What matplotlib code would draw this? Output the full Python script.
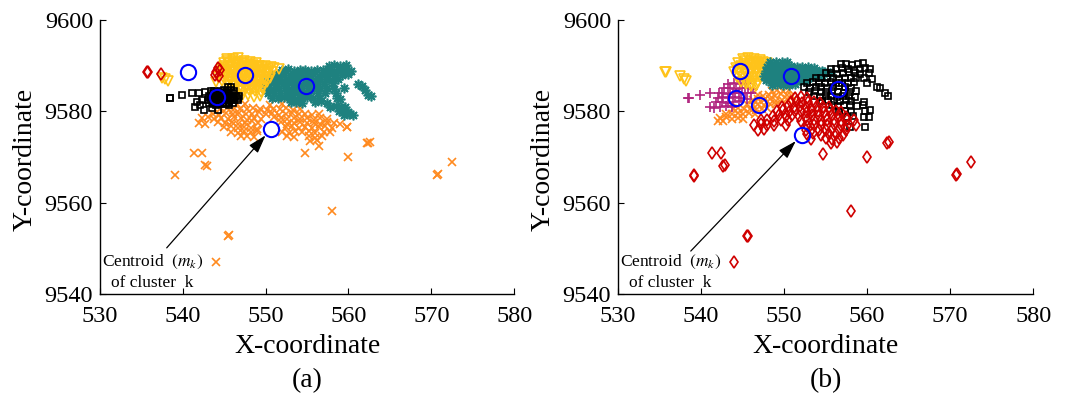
import matplotlib
matplotlib.use("Agg")
import matplotlib.pyplot as plt

plt.rcParams["font.family"] = ["Liberation Serif", "DejaVu Serif"]
plt.rcParams["mathtext.fontset"] = "stix"

# ---------------- panel (a) ----------------
a_yellow_x = [537.5, 537.8, 538.2,
              545.3, 546.0, 546.7,
              545.0, 545.7, 546.4, 547.1, 547.8, 548.5, 549.2,
              545.3, 546.0, 546.7, 547.4, 548.1, 548.8,
              544.7, 545.4, 546.1, 546.8, 547.5, 548.2, 548.9, 549.6, 550.3, 551.0, 551.6,
              545.0, 545.7, 546.4, 547.1, 547.8, 548.5, 549.2, 549.9, 550.6,
              544.5, 545.2, 545.9, 546.6, 547.3, 548.0, 548.7, 549.4, 550.1, 550.8,
              544.8, 545.5, 546.2, 546.9, 547.6, 548.3, 549.0, 549.7, 550.4,
              544.2, 544.9, 545.6, 546.3, 547.0, 547.7, 548.4, 549.1, 549.8, 550.5,
              544.5, 545.2, 545.9, 546.6, 547.3, 548.0, 548.7, 549.4, 550.1,
              544.0, 544.7, 545.4, 546.1, 546.8, 547.5, 548.2, 548.9, 549.6, 550.2,
              545.8, 546.5, 547.2, 547.9, 548.6, 549.3, 549.9,
              545.5, 546.2, 546.9, 547.6, 548.3, 549.0, 549.7,
              546.9, 547.6, 548.3, 549.0, 549.6,
              546.6, 547.3, 548.0, 548.7, 549.4,
              547.2, 547.9, 548.6, 549.3]
a_yellow_y = [9587.4, 9587.0, 9586.7,
              9591.5, 9591.5, 9591.6,
              9590.5, 9590.6, 9590.4, 9590.5, 9590.3, 9590.2, 9590.0,
              9591.0, 9591.1, 9590.9, 9591.0, 9590.8, 9590.6,
              9589.5, 9589.6, 9589.4, 9589.5, 9589.7, 9589.4, 9589.5, 9589.6, 9589.3, 9589.5, 9589.3,
              9590.0, 9590.0, 9590.1, 9589.9, 9590.0, 9590.0, 9589.9, 9590.0, 9589.8,
              9588.5, 9588.4, 9588.6, 9588.5, 9588.3, 9588.5, 9588.6, 9588.4, 9588.5, 9588.6,
              9589.0, 9589.0, 9589.1, 9588.9, 9589.0, 9589.0, 9589.1, 9589.0, 9588.9,
              9587.5, 9587.6, 9587.4, 9587.5, 9587.7, 9587.5, 9587.4, 9587.6, 9587.5, 9587.4,
              9588.0, 9588.0, 9587.9, 9588.1, 9588.0, 9588.0, 9587.9, 9588.0, 9588.1,
              9586.5, 9586.6, 9586.4, 9586.5, 9586.6, 9586.4, 9586.5, 9586.7, 9586.5, 9586.4,
              9587.0, 9587.0, 9586.9, 9587.1, 9587.0, 9587.0, 9586.9,
              9585.5, 9585.6, 9585.4, 9585.5, 9585.6, 9585.5, 9585.4,
              9585.0, 9585.1, 9584.9, 9585.0, 9585.0,
              9584.5, 9584.4, 9584.6, 9584.5, 9584.3,
              9583.3, 9583.5, 9583.2, 9583.4]

a_teal_x = [557.6, 558.3, 559.0, 559.7,
            552.0, 552.7, 553.4, 554.1, 554.8, 555.5, 556.2, 556.9, 557.6, 558.3, 559.0, 559.7, 560.3,
            550.8, 551.5, 552.2, 552.9, 553.6, 554.3, 555.0, 555.7, 556.4, 557.1, 557.8, 558.5, 559.2, 559.9,
            550.3, 551.0, 551.7, 552.4, 553.1, 553.8, 554.5, 555.2, 555.9, 556.6, 557.3, 558.0, 558.7,
            550.0, 550.7, 551.4, 552.1, 552.8, 553.5, 554.2, 554.9, 555.6, 556.3, 557.0, 558.1, 561.2, 561.6,
            550.2, 550.9, 551.6, 552.3, 553.0, 553.7, 554.4, 555.1, 555.8, 556.5, 557.4, 558.2, 559.4, 562.0,
            550.3, 551.0, 551.7, 552.4, 553.1, 553.8, 554.5, 555.2, 556.3, 557.2, 558.5, 562.3, 562.7,
            550.8, 551.5, 552.2, 552.9, 553.6, 554.3, 555.0, 555.7, 556.4, 558.6, 559.0,
            553.0, 553.7, 554.4, 556.0, 556.7, 557.4,
            557.8, 558.5, 559.1, 559.6,
            558.8, 559.4, 560.0,
            559.5, 560.1, 560.6]
a_teal_y = [9590.0, 9590.2, 9589.9, 9590.1,
            9589.0, 9589.2, 9588.9, 9589.1, 9589.0, 9588.8, 9589.1, 9589.0, 9589.2, 9588.9, 9589.0, 9589.2, 9588.9,
            9588.0, 9588.1, 9587.9, 9588.0, 9588.2, 9587.9, 9588.0, 9588.1, 9587.8, 9588.0, 9588.1, 9587.9, 9588.0, 9588.1,
            9587.0, 9586.9, 9587.1, 9587.0, 9586.8, 9587.0, 9587.2, 9587.0, 9586.9, 9587.1, 9587.0, 9586.8, 9587.0,
            9586.0, 9586.1, 9585.9, 9586.0, 9586.2, 9586.0, 9585.8, 9586.0, 9586.1, 9585.9, 9586.0, 9586.1, 9586.0, 9585.6,
            9585.0, 9584.9, 9585.1, 9585.0, 9584.8, 9585.0, 9585.2, 9585.0, 9584.9, 9585.1, 9585.0, 9584.8, 9585.0, 9584.6,
            9584.0, 9584.1, 9583.9, 9584.0, 9584.2, 9584.0, 9583.8, 9584.0, 9584.1, 9583.9, 9584.0, 9583.6, 9583.3,
            9583.0, 9582.9, 9583.1, 9583.0, 9582.8, 9583.0, 9583.2, 9583.0, 9582.9, 9583.0, 9582.6,
            9582.0, 9582.1, 9581.9, 9582.0, 9582.2, 9581.9,
            9581.0, 9581.1, 9580.9, 9581.0,
            9580.0, 9580.1, 9579.9,
            9579.2, 9579.3, 9579.1]

a_orange_x = [546.5, 547.5, 550.5, 552.0,
              544.5, 545.3, 546.1, 546.9, 547.7, 548.5, 549.3, 550.1, 550.9, 551.7, 552.5, 553.3, 554.1,
              543.6, 544.4, 545.2, 546.0, 546.8, 547.6, 548.4, 549.2, 550.0, 550.8, 551.6, 552.4, 553.2, 554.0, 554.8, 555.6, 556.4,
              542.3, 543.0, 543.8, 544.6, 545.4, 546.2, 547.0, 547.8, 548.6, 549.4, 551.0, 551.8, 552.6, 553.4, 554.2, 555.0, 555.8, 556.6, 557.4,
              542.0, 542.7, 544.3, 545.1, 545.9, 546.7, 547.5, 548.3, 549.1, 551.8, 552.6, 553.4, 554.2, 555.0, 555.8, 556.6, 557.4, 558.2, 559.0,
              545.0, 545.8, 546.6, 547.4, 548.2, 549.0, 552.4, 553.2, 554.0, 554.8, 555.6, 556.4, 557.2, 558.0, 559.8,
              545.8, 546.6, 547.4, 548.2, 549.0, 552.0, 552.8, 553.6, 554.4, 555.2, 556.0, 557.0, 557.8,
              547.0, 547.8, 548.6, 552.6, 553.4, 555.2, 556.0, 556.8,
              555.4, 556.2, 562.2, 556.4, 562.6,
              541.3, 542.3, 542.7, 542.9, 539.1, 554.8, 560.0, 562.4, 559.8,
              558.0, 545.5, 545.6, 544.0, 570.7, 570.8, 572.5]
a_orange_y = [9581.5, 9581.7, 9581.4, 9581.6,
              9580.5, 9580.8, 9580.3, 9580.6, 9580.4, 9580.7, 9580.5, 9580.2, 9580.6, 9580.4, 9580.7, 9580.3, 9580.5,
              9579.5, 9579.2, 9579.7, 9579.4, 9579.6, 9579.3, 9579.5, 9579.8, 9579.4, 9579.6, 9579.2, 9579.5, 9579.7, 9579.3, 9579.5, 9579.1, 9579.4,
              9578.5, 9578.7, 9578.3, 9578.6, 9578.4, 9578.8, 9578.5, 9578.2, 9578.6, 9578.4, 9578.7, 9578.5, 9578.3, 9578.6, 9578.4, 9578.5, 9578.2, 9578.6, 9578.4,
              9577.5, 9577.2, 9577.6, 9577.4, 9577.7, 9577.3, 9577.5, 9577.8, 9577.4, 9577.6, 9577.3, 9577.5, 9577.7, 9577.4, 9577.5, 9577.2, 9577.6, 9577.4, 9577.3,
              9576.5, 9576.7, 9576.3, 9576.6, 9576.4, 9576.2, 9576.5, 9576.8, 9576.4, 9576.6, 9576.3, 9576.5, 9576.7, 9576.4, 9576.6,
              9575.5, 9575.3, 9575.7, 9575.4, 9575.6, 9575.5, 9575.2, 9575.6, 9575.4, 9575.7, 9575.3, 9575.5, 9575.4,
              9574.5, 9574.7, 9574.3, 9574.6, 9574.4, 9574.5, 9574.2, 9574.6,
              9573.5, 9573.7, 9573.1, 9572.5, 9573.3,
              9570.9, 9570.8, 9568.3, 9568.1, 9566.1, 9570.8, 9570.1, 9573.1, 9576.6,
              9558.2, 9552.7, 9552.9, 9547.1, 9566.0, 9566.2, 9568.9]

a_black_x = [538.4, 538.5, 539.9, 541.1, 542.0, 542.7, 541.5, 542.1, 542.6, 543.5, 544.3, 541.7, 542.3,
             543.4, 543.8, 544.2, 544.6, 545.0, 545.4, 545.8, 546.2,
             543.6, 544.0, 544.4, 544.8, 545.2, 545.6, 546.0,
             543.2, 543.6, 544.0, 544.4, 544.8, 545.2, 545.6, 546.0, 546.4, 546.8,
             543.4, 543.8, 544.2, 544.6, 545.0, 545.4, 545.8, 546.2, 546.6,
             543.0, 543.4, 543.8, 544.2, 544.6, 545.0, 545.4, 545.8, 546.2, 546.6,
             543.2, 543.6, 544.0, 544.4, 544.8, 545.2, 545.6, 546.0,
             543.6, 544.0, 544.4, 544.8, 545.2, 545.6,
             545.4, 545.8]
a_black_y = [9582.9, 9583.0, 9583.6, 9584.1, 9584.1, 9584.3, 9581.0, 9581.4, 9580.3, 9580.7, 9580.3, 9582.1, 9582.5,
             9584.4, 9584.5, 9584.3, 9584.4, 9584.6, 9584.4, 9584.7, 9584.4,
             9583.9, 9583.9, 9583.9, 9583.9, 9583.9, 9583.9, 9583.9,
             9583.4, 9583.3, 9583.5, 9583.4, 9583.3, 9583.4, 9583.5, 9583.4, 9583.3, 9583.4,
             9582.9, 9582.9, 9582.9, 9582.9, 9582.9, 9582.9, 9582.9, 9582.9, 9582.9,
             9582.4, 9582.5, 9582.3, 9582.4, 9582.5, 9582.4, 9582.3, 9582.4, 9582.5, 9582.4,
             9581.9, 9581.9, 9581.9, 9581.9, 9581.9, 9581.9, 9581.9, 9581.9,
             9581.5, 9581.4, 9581.5, 9581.6, 9581.5, 9581.4,
             9585.3, 9585.3]

a_red_x = [535.7, 535.8, 537.3, 543.9, 544.2, 544.5, 544.0, 544.4]
a_red_y = [9588.5, 9588.7, 9588.1, 9588.0, 9589.4, 9589.0, 9588.7, 9587.7]

a_cent_x = [540.6, 547.5, 544.1, 554.9, 550.65]
a_cent_y = [9588.6, 9588.0, 9583.1, 9585.5, 9576.1]

# ---------------- panel (b) ----------------
b_yellow_x = [535.7, 535.8, 537.5, 537.9, 538.2,
              545.0, 545.7, 546.4, 547.1,
              545.3, 546.0, 546.7, 547.4,
              544.5, 545.2, 545.9, 546.6, 547.3, 548.0,
              544.8, 545.5, 546.2, 546.9, 547.6,
              544.2, 544.9, 545.6, 546.3, 547.0, 547.7,
              544.5, 545.2, 545.9, 546.6, 547.3,
              544.0, 544.7, 545.4, 546.1, 546.8, 547.5,
              544.3, 545.0, 545.7, 546.4, 547.1,
              544.8, 545.5, 546.2, 546.9,
              545.4, 546.1, 546.7,
              546.0, 546.6]
b_yellow_y = [9588.5, 9588.6, 9587.7, 9587.0, 9586.7,
              9591.5, 9591.6, 9591.4, 9591.3,
              9591.0, 9591.0, 9590.9, 9590.8,
              9590.5, 9590.4, 9590.6, 9590.5, 9590.3, 9590.5,
              9590.0, 9590.0, 9590.1, 9589.9, 9590.0,
              9589.5, 9589.6, 9589.4, 9589.5, 9589.6, 9589.4,
              9589.0, 9589.0, 9589.1, 9588.9, 9589.0,
              9588.5, 9588.4, 9588.6, 9588.5, 9588.4, 9588.6,
              9587.5, 9587.6, 9587.4, 9587.5, 9587.6,
              9586.5, 9586.4, 9586.6, 9586.5,
              9586.0, 9586.0, 9586.0,
              9585.5, 9585.5]

b_teal_x = [548.3, 549.0, 549.7, 550.4,
            548.0, 548.7, 549.4, 550.1, 550.8, 551.5, 552.2, 552.9, 553.6,
            548.3, 549.0, 549.7, 550.4, 551.1, 551.8, 552.5, 553.2, 553.9, 554.6,
            547.8, 548.5, 549.2, 549.9, 550.6, 551.3, 552.0, 552.7, 553.4, 554.1, 554.8, 555.5,
            547.6, 548.3, 549.0, 549.7, 550.4, 551.1, 551.8, 552.5, 553.2, 553.9, 554.6,
            548.0, 548.7, 549.4, 550.1, 550.8, 551.5, 552.2,
            547.8, 548.5, 549.2, 549.9, 550.6, 551.3, 552.0, 552.7,
            548.5, 549.2, 549.9, 550.6, 551.3]
b_teal_y = [9590.8, 9590.9, 9590.7, 9590.8,
            9589.8, 9589.9, 9589.7, 9589.8, 9589.9, 9589.7, 9589.8, 9589.6, 9589.5,
            9589.3, 9589.3, 9589.3, 9589.3, 9589.3, 9589.3, 9589.3, 9589.2, 9589.0, 9588.8,
            9588.8, 9588.7, 9588.9, 9588.8, 9588.7, 9588.9, 9588.8, 9588.7, 9588.8, 9588.6, 9588.5, 9588.3,
            9587.8, 9587.9, 9587.7, 9587.8, 9587.9, 9587.7, 9587.8, 9587.9, 9587.8, 9587.7, 9587.8,
            9587.3, 9587.3, 9587.3, 9587.3, 9587.3, 9587.3, 9587.3,
            9586.8, 9586.7, 9586.9, 9586.8, 9586.7, 9586.9, 9586.8, 9586.7,
            9585.8, 9585.9, 9585.7, 9585.8, 9585.9]

b_purple_x = [538.4, 538.5, 539.9, 541.1, 542.1, 541.5, 541.1,
              543.3, 544.0, 544.7, 545.4,
              542.8, 543.5, 544.2, 544.9, 545.6, 546.3,
              542.5, 543.2, 543.9, 544.6, 545.3, 546.0,
              542.0, 542.7, 543.4, 544.1, 544.8, 545.5,
              541.8, 542.5, 543.2, 543.9, 544.6,
              542.3, 543.0, 543.7]
b_purple_y = [9582.9, 9583.0, 9583.6, 9584.1, 9584.1, 9580.7, 9580.9,
              9586.0, 9586.2, 9585.9, 9586.1,
              9585.0, 9585.2, 9584.9, 9585.1, 9585.0, 9584.8,
              9584.0, 9583.8, 9584.1, 9584.0, 9583.9, 9584.1,
              9583.0, 9583.2, 9582.9, 9583.1, 9583.0, 9582.8,
              9582.0, 9582.1, 9581.9, 9582.0, 9582.2,
              9581.0, 9581.2, 9580.9]

b_orange_x = [548.5, 549.2, 549.9, 550.6,
              546.8, 547.5, 548.2, 548.9, 549.6, 550.3, 551.0,
              546.2, 546.9, 547.6, 548.3, 549.0, 549.7, 550.4,
              545.5, 546.2, 546.9, 547.6, 548.3, 549.0,
              543.8, 544.5, 545.2, 545.9, 546.6, 547.3, 548.0,
              543.0, 543.7, 544.4, 545.1, 545.8, 546.5,
              542.3, 543.0, 543.7, 544.4, 545.1,
              542.0, 542.6]
b_orange_y = [9584.5, 9584.7, 9584.4, 9584.6,
              9583.5, 9583.3, 9583.6, 9583.4, 9583.7, 9583.5, 9583.3,
              9582.5, 9582.7, 9582.4, 9582.6, 9582.3, 9582.5, 9582.7,
              9581.5, 9581.3, 9581.6, 9581.4, 9581.7, 9581.5,
              9580.5, 9580.7, 9580.4, 9580.6, 9580.3, 9580.5, 9580.7,
              9579.5, 9579.3, 9579.6, 9579.4, 9579.7, 9579.5,
              9578.5, 9578.7, 9578.4, 9578.6, 9578.3,
              9577.8, 9577.9]

b_black_x = [556.8, 557.5, 558.2, 558.9, 559.5,
             555.6, 556.3, 557.0, 557.7, 558.4, 559.1, 559.8, 560.4,
             555.0, 555.7, 556.4, 557.1, 557.8, 558.5, 559.2, 560.2,
             553.8, 554.5, 555.2, 555.9, 556.6, 557.3, 558.0, 558.7, 559.6, 560.6,
             552.8, 553.5, 554.2, 554.9, 555.6, 556.3, 557.0, 557.7, 558.4, 560.0, 561.2,
             552.4, 553.1, 553.8, 554.5, 555.2, 555.9, 556.6, 557.3, 558.0, 561.5,
             553.0, 553.7, 554.4, 555.1, 555.8, 556.5, 557.2, 557.9, 558.6, 562.2,
             553.6, 554.3, 555.0, 555.7, 556.4, 557.1, 557.8, 558.5, 562.5,
             554.6, 555.3, 556.0, 556.7, 557.4, 558.1, 559.6,
             555.8, 556.5, 557.2, 557.9, 558.8, 559.5,
             556.6, 557.3, 558.0, 559.8, 560.4,
             557.6, 558.3, 559.6, 560.2,
             557.9, 559.8]
b_black_y = [9590.3, 9590.4, 9590.2, 9590.3, 9590.5,
             9589.3, 9589.2, 9589.4, 9589.3, 9589.1, 9589.3, 9589.4, 9589.2,
             9588.3, 9588.4, 9588.2, 9588.3, 9588.5, 9588.3, 9588.1, 9588.3,
             9587.3, 9587.2, 9587.4, 9587.3, 9587.1, 9587.3, 9587.4, 9587.2, 9587.3, 9587.0,
             9586.3, 9586.4, 9586.2, 9586.3, 9586.5, 9586.3, 9586.1, 9586.3, 9586.4, 9586.2, 9585.4,
             9585.3, 9585.2, 9585.4, 9585.3, 9585.1, 9585.3, 9585.5, 9585.3, 9585.2, 9585.0,
             9584.3, 9584.4, 9584.2, 9584.3, 9584.5, 9584.3, 9584.1, 9584.3, 9584.4, 9583.9,
             9583.3, 9583.2, 9583.4, 9583.3, 9583.1, 9583.3, 9583.4, 9583.2, 9583.4,
             9582.3, 9582.4, 9582.2, 9582.3, 9582.5, 9582.3, 9582.1,
             9581.3, 9581.2, 9581.4, 9581.3, 9581.1, 9581.3,
             9580.0, 9580.1, 9579.9, 9580.0, 9580.2,
             9578.8, 9578.9, 9578.7, 9578.8,
             9576.6, 9576.6]

b_red_x = [551.3, 552.0, 552.7,
           550.8, 551.5, 552.2, 552.9, 553.6, 554.3,
           549.8, 550.5, 551.2, 551.9, 552.6, 553.3, 554.0, 554.7, 555.4,
           549.2, 549.9, 550.6, 551.3, 552.0, 552.7, 553.4, 554.1, 554.8, 555.5, 556.2, 556.9,
           548.7, 549.4, 550.2, 551.0, 551.8, 552.6, 553.4, 554.2, 555.0, 555.8, 556.6, 557.4,
           547.2, 548.0, 548.8, 549.6, 550.5, 552.0, 552.8, 553.6, 554.4, 555.2, 556.0, 556.8, 557.6, 558.4,
           546.4, 547.2, 548.0, 548.8, 550.2, 552.8, 553.6, 554.4, 555.2, 556.0, 556.8, 557.6, 558.6,
           546.8, 547.6, 552.6, 553.4, 554.2, 555.0, 555.8, 556.6, 557.4,
           552.7, 553.5, 554.5, 555.4, 556.3, 557.1,
           553.2, 555.0, 555.8, 556.6,
           555.6, 556.4,
           541.3, 542.4, 542.7, 542.9, 539.1, 539.2, 554.7, 560.0, 562.4, 562.6,
           558.0, 545.5, 545.6, 544.0, 570.7, 570.8, 572.5]
b_red_y = [9583.0, 9583.2, 9582.9,
           9582.0, 9582.2, 9581.9, 9582.1, 9582.0, 9581.8,
           9581.0, 9581.2, 9580.9, 9581.1, 9581.0, 9580.8, 9581.1, 9581.0, 9580.9,
           9580.0, 9580.2, 9579.9, 9580.1, 9580.0, 9579.8, 9580.1, 9580.0, 9579.9, 9580.2, 9580.0, 9579.8,
           9579.0, 9579.2, 9578.9, 9579.1, 9579.0, 9578.8, 9579.1, 9579.0, 9578.9, 9579.2, 9579.0, 9578.8,
           9578.0, 9578.2, 9577.9, 9578.1, 9578.0, 9577.8, 9578.1, 9578.0, 9577.9, 9578.2, 9578.0, 9577.8, 9578.1, 9578.0,
           9577.0, 9577.2, 9576.9, 9577.1, 9577.0, 9576.8, 9577.1, 9577.0, 9576.9, 9577.2, 9577.0, 9576.8, 9577.1,
           9576.0, 9576.2, 9575.9, 9576.1, 9576.0, 9575.8, 9576.1, 9576.0, 9575.9,
           9575.0, 9575.2, 9574.9, 9575.1, 9575.0, 9574.8,
           9574.0, 9574.2, 9573.9, 9574.1,
           9573.0, 9573.2,
           9570.9, 9570.8, 9568.1, 9568.3, 9565.9, 9566.1, 9570.7, 9570.1, 9573.0, 9573.2,
           9558.2, 9552.6, 9552.8, 9547.1, 9566.0, 9566.2, 9568.9]

b_cent_x = [544.7, 550.84, 544.2, 547.0, 556.5, 552.1]
b_cent_y = [9588.9, 9587.8, 9583.0, 9581.3, 9584.8, 9574.8]

x_ticks = [530, 540, 550, 560, 570, 580]
y_ticks = [9540, 9560, 9580, 9600]

YELLOW = "#FFC31A"
TEAL = "#1E817F"
ORANGE = "#FF8A1F"
RED = "#D00000"
PURPLE = "#B0247F"
BLUE = "#0000FF"


def draw_group(ax, xs, ys, marker, color, ms, mfc="none", mew=1.2):
    ax.plot(xs, ys, linestyle="none", marker=marker, color=color,
            markersize=ms, markerfacecolor=mfc, markeredgecolor=color,
            markeredgewidth=mew)


def style_axes(ax, label):
    ax.set_xlim(530, 580)
    ax.set_ylim(9540, 9600)
    ax.set_xticks(x_ticks)
    ax.set_yticks(y_ticks)
    ax.spines["top"].set_visible(False)
    ax.spines["right"].set_visible(False)
    ax.spines["left"].set_linewidth(1.0)
    ax.spines["bottom"].set_linewidth(1.0)
    ax.tick_params(direction="in", length=4, width=0.8, labelsize=17.5)
    ax.tick_params(axis="x", pad=9)
    ax.tick_params(axis="y", pad=5)
    ax.text(0.5, -0.19, "X-coordinate", transform=ax.transAxes,
            ha="center", va="center", fontsize=20)
    ax.text(-0.181, 0.49, "Y-coordinate", transform=ax.transAxes,
            ha="center", va="center", rotation=90, fontsize=20)
    ax.text(0.5, -0.315, label, transform=ax.transAxes,
            ha="center", va="center", fontsize=20)


def draw_note(ax, head_x, head_y, tail_x, tail_y):
    ax.annotate("", xy=(head_x, head_y), xytext=(tail_x, tail_y),
                arrowprops=dict(arrowstyle="-|>,head_length=0.8,head_width=0.25",
                                mutation_scale=14, color="black", lw=0.9,
                                shrinkA=0, shrinkB=6))
    ax.text(536.3, 9547.0, "Centroid  $(m_k)$", ha="center", va="center",
            fontsize=12.5)
    ax.text(536.3, 9542.5, "of cluster  k", ha="center", va="center",
            fontsize=12.5)


fig = plt.figure(figsize=(10.7, 3.96), dpi=100)
ax_a = fig.add_axes([0.0935, 0.2576, 0.387, 0.692])
ax_b = fig.add_axes([0.5776, 0.2576, 0.388, 0.692])

# (a)
draw_group(ax_a, a_orange_x, a_orange_y, "x", ORANGE, 6)
draw_group(ax_a, a_teal_x, a_teal_y, (8, 2, 0), TEAL, 7)
draw_group(ax_a, a_yellow_x, a_yellow_y, "v", YELLOW, 6.5)
draw_group(ax_a, a_black_x, a_black_y, "s", "black", 5)
draw_group(ax_a, a_red_x, a_red_y, "d", RED, 6)
draw_group(ax_a, a_cent_x, a_cent_y, "o", BLUE, 11, mew=1.5)
style_axes(ax_a, "(a)")
draw_note(ax_a, a_cent_x[4], a_cent_y[4], 538.05, 9550.1)

# (b)
draw_group(ax_b, b_orange_x, b_orange_y, "x", ORANGE, 6)
draw_group(ax_b, b_purple_x, b_purple_y, "+", PURPLE, 7)
draw_group(ax_b, b_yellow_x, b_yellow_y, "v", YELLOW, 6.5)
draw_group(ax_b, b_teal_x, b_teal_y, (8, 2, 0), TEAL, 7)
draw_group(ax_b, b_black_x, b_black_y, "s", "black", 5)
draw_group(ax_b, b_red_x, b_red_y, "d", RED, 6)
draw_group(ax_b, b_cent_x, b_cent_y, "o", BLUE, 11, mew=1.5)
style_axes(ax_b, "(b)")
draw_note(ax_b, b_cent_x[5], b_cent_y[5], 538.76, 9549.4)

fig.savefig("out.png", dpi=100)
